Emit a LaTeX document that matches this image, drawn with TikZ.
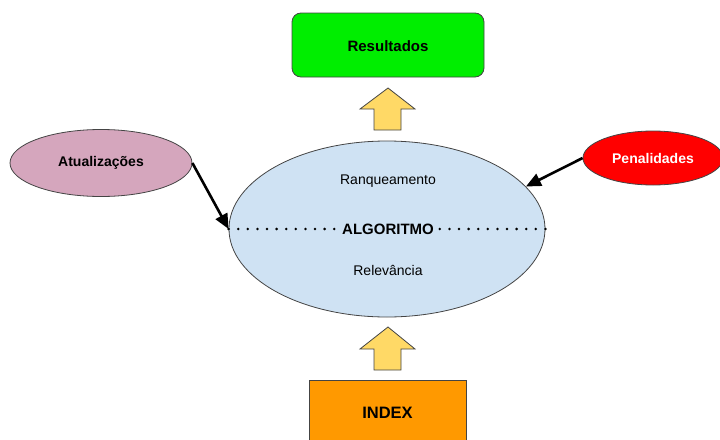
\documentclass[tikz,border=0pt]{standalone}
\usepackage{fontspec}
\setmainfont{Liberation Sans}
\usetikzlibrary{shapes.geometric,arrows.meta}
\definecolor{resgreen}{HTML}{00EE00}
\definecolor{algblue}{HTML}{CFE2F3}
\definecolor{atupink}{HTML}{D5A6BD}
\definecolor{penred}{HTML}{FF0000}
\definecolor{idxorange}{HTML}{FF9900}
\definecolor{bigarrow}{HTML}{FFD966}
\definecolor{edge}{HTML}{444444}
\tikzset{
  box/.style={draw=edge, line width=0.8pt, inner sep=0pt},
  blob/.style={ellipse, draw=edge, line width=0.8pt, inner sep=0pt},
  push/.style={line width=2.6pt, -{Triangle[length=15pt, width=13pt]}},
  uparrow/.style={draw=edge, line width=0.8pt, fill=bigarrow, line join=miter},
  dots/.style={line width=2.8pt, dash pattern=on 0pt off 9.6pt, line cap=round},
  lbl/.style={font=\fontsize{14}{16}\selectfont},
  blbl/.style={font=\fontsize{14}{16}\selectfont\bfseries}
}
\begin{document}
\begin{tikzpicture}[x=1pt, y=-1pt]
  \useasboundingbox (0,0) rectangle (720,439);
  \begin{scope}
    \clip (0,0) rectangle (720,439);
    % result box
    \node[box, fill=resgreen, rounded corners=9pt, minimum width=192pt, minimum height=64pt]
      (res) at (388,45) {};
    \node[font=\fontsize{15}{17}\selectfont\bfseries] (restext) at (388,46) {Resultados};
    % index box, cut by the lower edge
    \node[box, fill=idxorange, minimum width=157pt, minimum height=66pt, anchor=north]
      (idx) at (387.5,380) {};
    \node[font=\fontsize{16.5}{19}\selectfont\bfseries] (idxtext) at (387.5,413) {INDEX};
  \end{scope}

  % central algorithm ellipse
  \node[blob, fill=algblue, minimum width=316pt, minimum height=176pt] (alg) at (387,229) {};
  \node[lbl] (rank) at (388,181) {Ranqueamento};
  \node[lbl] (rel) at (388,270) {Relevância};
  \node[font=\fontsize{15}{17}\selectfont\bfseries, inner xsep=4pt] (algtext) at (388,229) {ALGORITMO};
  \draw[dots] (alg.west) -- (algtext.west);
  \draw[dots] (alg.east) -- (algtext.east);

  % side inputs
  \node[blob, fill=atupink, minimum width=182pt, minimum height=67pt] (atu) at (101,163) {};
  \node[blbl] (atutext) at (atu.center) {Atualizações};
  \node[blob, fill=penred, minimum width=140pt, minimum height=54pt] (pen) at (653,158) {};
  \node[text=white, font=\fontsize{14}{16}\selectfont\bfseries] (pentext) at (pen.center) {Penalidades};

  \draw[push] (atu.east) -- (alg.west);
  \draw[push] (pen.west) -- (alg.17);

  % block arrows
  \coordinate (upA) at (388,88);
  \coordinate (upB) at (388,327);
  \draw[uparrow] (upA) -- ++(27,21) -- ++(-14,0) -- ++(0,21) -- ++(-27,0) -- ++(0,-21) -- ++(-14,0) -- cycle;
  \draw[uparrow] (upB) -- ++(27,22) -- ++(-14,0) -- ++(0,21) -- ++(-27,0) -- ++(0,-21) -- ++(-14,0) -- cycle;
\end{tikzpicture}
\end{document}
